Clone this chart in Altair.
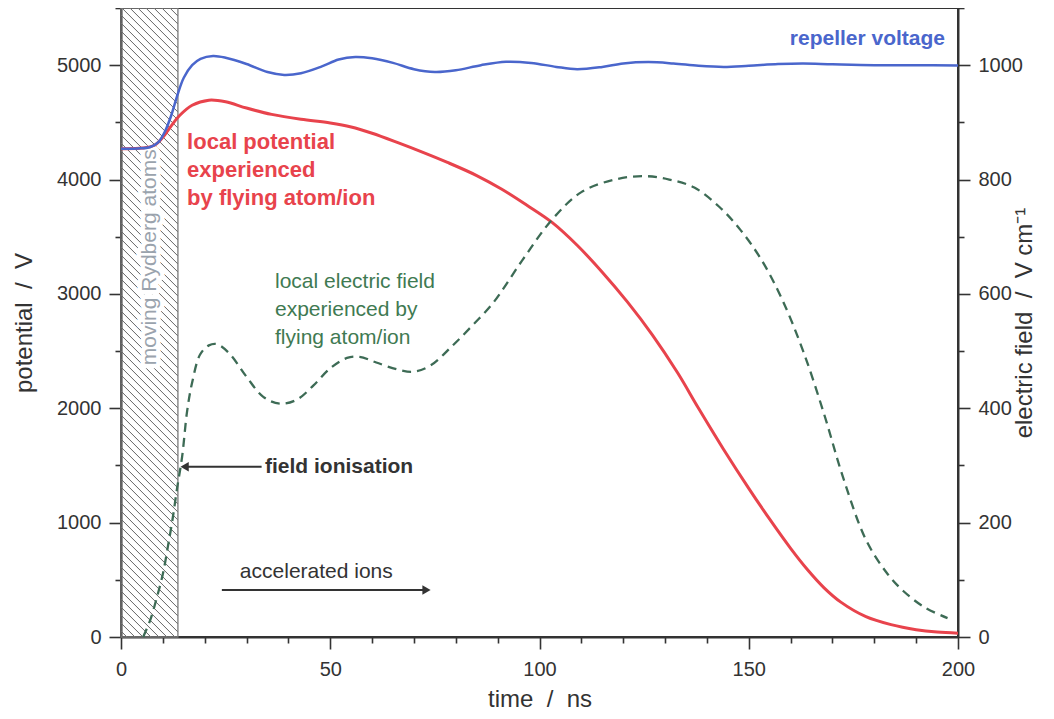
import altair as alt
import pandas as pd

# ---------------- data ----------------
rep_t = [0, 4, 7, 9, 10.5, 12, 13.5, 15, 17, 19, 22, 25, 30, 35, 39, 43, 48, 52, 56, 60,
         65, 70, 75, 80, 86, 92, 98, 104, 109, 115, 120, 126, 132, 138, 144, 150, 157,
         163, 170, 180, 190, 200]
rep_v = [4270, 4272, 4285, 4330, 4420, 4560, 4740, 4890, 5000, 5055, 5080, 5065, 5010,
         4940, 4915, 4930, 4990, 5050, 5072, 5060, 5020, 4965, 4940, 4955, 5000, 5030,
         5020, 4985, 4965, 4985, 5015, 5027, 5015, 4995, 4985, 4995, 5010, 5015, 5008,
         5000, 5000, 4998]

pot_t = [0, 5, 8, 10, 12, 14, 17, 21, 25, 30, 36, 43, 50, 55, 60, 66, 72, 78, 85, 91, 97,
         103, 109, 115, 121, 127, 133, 138, 144, 150, 155, 160, 164, 168, 172, 178, 184,
         190, 195, 200]
pot_v = [4270, 4275, 4300, 4370, 4470, 4560, 4650, 4694, 4680, 4625, 4570, 4527, 4495,
         4460, 4405, 4325, 4240, 4150, 4035, 3915, 3775, 3625, 3425, 3190, 2930, 2640,
         2310, 2000, 1640, 1300, 1030, 775, 590, 430, 305, 178, 108, 64, 43, 33]

fld_t = [5.3, 7, 8.6, 10, 11.2, 12.3, 13.4, 14.6, 15.8, 17, 18.9, 21, 23, 26, 30, 34, 38,
         42, 46, 50, 54, 57, 61, 66, 70, 74, 79, 84, 89, 96, 103, 110, 118, 125, 131, 137,
         143, 148, 153, 158, 163, 168, 172.5, 178, 183, 187, 192, 197.5]
fld_e = [0, 30, 70, 110, 158, 205, 260, 315, 395, 445, 494, 510, 512, 495, 455, 420, 408,
         415, 440, 470, 488, 490, 480, 468, 464, 475, 508, 545, 585, 660, 730, 778, 800,
         806, 800, 786, 752, 712, 660, 590, 500, 390, 280, 170, 112, 80, 52, 33]

band_start, band_end = 0, 13.6          # "moving Rydberg atoms" region (ns)

x_ticks = list(range(0, 201, 10))
v_ticks = list(range(0, 5501, 500))
e_ticks = list(range(0, 1101, 100))

# ---------------- layout / style ----------------
W, H = 837, 629
X_MAX, V_MAX, E_MAX = 200, 5500, 1100
HATCH_STEP = 8
FONT = "Liberation Sans, Arial, Helvetica, sans-serif"
INK = "#333333"

# hatch lines inside the band (45 degrees on screen)
px_t = W / X_MAX
px_v = H / V_MAX
band_w = (band_end - band_start) * px_t
rows = []
c = -band_w
while c < H:
    xs, xe = max(0.0, -c), min(band_w, H - c)
    if xe > xs:
        rows.append(dict(t=band_start + xs / px_t, V=V_MAX - (xs + c) / px_v,
                         t2=band_start + xe / px_t, V2=V_MAX - (xe + c) / px_v))
    c += HATCH_STEP
hatch_df = pd.DataFrame(rows)

x_scale = alt.Scale(domain=[0, X_MAX], nice=False, zero=False)
v_scale = alt.Scale(domain=[0, V_MAX], nice=False, zero=False)
e_scale = alt.Scale(domain=[0, E_MAX], nice=False, zero=False)


def tick_size(step):
    return {"condition": {"test": f"datum.value % {step} === 0", "value": 12}, "value": 6}


x_axis = alt.Axis(values=x_ticks, labelExpr="datum.value % 50 === 0 ? datum.label : ''",
                  tickSize=tick_size(50), title="time\u00a0\u00a0/\u00a0\u00a0ns", grid=False,
                  format="d", labelFlush=False, labelOverlap=False, labelPadding=10,
                  titlePadding=8)
v_axis = alt.Axis(values=v_ticks, labelExpr="datum.value % 1000 === 0 ? datum.label : ''",
                  tickSize=tick_size(1000), title="potential\u00a0\u00a0/\u00a0\u00a0V",
                  format="d", grid=False, labelFlush=False, labelOverlap=False, labelPadding=8,
                  titlePadding=20, orient="left")
e_axis = alt.Axis(values=e_ticks, labelExpr="datum.value % 200 === 0 ? datum.label : ''",
                  tickSize=tick_size(200), title="electric field\u00a0\u00a0/\u00a0\u00a0V cm\u207b\u00b9",
                  format="d", grid=False, labelFlush=False, labelOverlap=False, labelPadding=8,
                  titlePadding=14, orient="right", titleAngle=270)

X = alt.X("t:Q", scale=x_scale, axis=x_axis)
Y = alt.Y("V:Q", scale=v_scale, axis=v_axis)

hatch = alt.Chart(hatch_df).mark_rule(color="#666666", strokeWidth=1.0).encode(
    x=X, y=Y, x2="t2:Q", y2="V2:Q")

band_df = pd.DataFrame({"t": [band_start], "t2": [band_end], "V": [0], "V2": [V_MAX]})
band = alt.Chart(band_df).mark_rect(fillOpacity=0, stroke="#7a7a7a", strokeWidth=1.3).encode(
    x=X, x2="t2:Q", y=Y, y2="V2:Q")

band_lbl = pd.DataFrame({"t": [6.9], "V": [3320], "txt": ["moving Rydberg atoms"]})
halo = alt.Chart(band_lbl).mark_text(angle=270, font=FONT, fontSize=21, color="white",
                                     stroke="white", strokeWidth=9, strokeJoin="round").encode(
    x=X, y=Y, text="txt:N")
band_text = alt.Chart(band_lbl).mark_text(angle=270, font=FONT, fontSize=21,
                                          color="#9aa3ad").encode(x=X, y=Y, text="txt:N")

pot_df = pd.DataFrame({"t": pot_t, "V": pot_v})
rep_df = pd.DataFrame({"t": rep_t, "V": rep_v})
fld_df = pd.DataFrame({"t": fld_t, "E": fld_e})

red = alt.Chart(pot_df).mark_line(color="#e8434c", strokeWidth=3,
                                  interpolate="catmull-rom").encode(x=X, y=Y)
blue = alt.Chart(rep_df).mark_line(color="#4a66cc", strokeWidth=2.5,
                                   interpolate="catmull-rom").encode(x=X, y=Y)
green = alt.Chart(fld_df).mark_line(color="#3d6b55", strokeWidth=2.3, strokeDash=[9, 6],
                                    interpolate="catmull-rom").encode(
    x=X, y=alt.Y("E:Q", scale=e_scale, axis=e_axis))

# annotations (y is the first text line)
rep_lbl = pd.DataFrame({"t": [196.9], "V": [5228], "txt": ["repeller voltage"]})
t_rep = alt.Chart(rep_lbl).mark_text(font=FONT, fontSize=21, fontWeight="bold", color="#4a66cc",
                                     align="right", baseline="middle").encode(x=X, y=Y, text="txt:N")

pot_lbl = pd.DataFrame({"t": [15.8], "V": [4326],
                        "txt": ["local potential\nexperienced\nby flying atom/ion"]})
t_pot = alt.Chart(pot_lbl).mark_text(font=FONT, fontSize=22, fontWeight="bold", color="#e8434c",
                                     align="left", baseline="middle", lineBreak="\n",
                                     lineHeight=28).encode(x=X, y=Y, text="txt:N")

fld_lbl = pd.DataFrame({"t": [36.8], "V": [3100],
                        "txt": ["local electric field\nexperienced by\nflying atom/ion"]})
t_fld = alt.Chart(fld_lbl).mark_text(font=FONT, fontSize=21, color="#3f7a52",
                                     align="left", baseline="middle", lineBreak="\n",
                                     lineHeight=28).encode(x=X, y=Y, text="txt:N")

fi_lbl = pd.DataFrame({"t": [34.4], "V": [1489], "txt": ["field ionisation"]})
t_fi = alt.Chart(fi_lbl).mark_text(font=FONT, fontSize=21, fontWeight="bold", color=INK,
                                   align="left", baseline="middle").encode(x=X, y=Y, text="txt:N")
fi_arrow_df = pd.DataFrame({"t": [15.2], "t2": [33.6], "V": [1489]})
fi_rule = alt.Chart(fi_arrow_df).mark_rule(color=INK, strokeWidth=2).encode(x=X, x2="t2:Q", y=Y)
fi_head = alt.Chart(fi_arrow_df).mark_point(shape="triangle-left", filled=True, color=INK,
                                            opacity=1, size=90).encode(x=X, y=Y)

ai_lbl = pd.DataFrame({"t": [28.4], "V": [569], "txt": ["accelerated ions"]})
t_ai = alt.Chart(ai_lbl).mark_text(font=FONT, fontSize=21, color=INK,
                                   align="left", baseline="middle").encode(x=X, y=Y, text="txt:N")
ai_arrow_df = pd.DataFrame({"t": [24.1], "t2": [73.0], "V": [412]})
ai_rule = alt.Chart(ai_arrow_df).mark_rule(color=INK, strokeWidth=2).encode(x=X, x2="t2:Q", y=Y)
ai_head = alt.Chart(ai_arrow_df).mark_point(shape="triangle-right", filled=True, color=INK,
                                            opacity=1, size=90).encode(
    x=alt.X("t2:Q", scale=x_scale, axis=x_axis), y=Y)

left = alt.layer(hatch, band, halo, band_text, red, blue, t_rep, t_pot, t_fld,
                 t_fi, fi_rule, fi_head, t_ai, ai_rule, ai_head)

chart = (
    alt.layer(left, green)
    .resolve_scale(y="independent")
    .properties(width=W, height=H,
                autosize=alt.AutoSizeParams(type="none"),
                padding={"left": 113, "top": 0, "right": 88, "bottom": 74},
                background="white")
    .configure_view(stroke=INK, strokeWidth=2)
    .configure_axis(domainColor=INK, domainWidth=2, tickColor=INK, tickWidth=1.6,
                    labelColor=INK, titleColor=INK, labelFont=FONT, titleFont=FONT,
                    labelFontSize=20, titleFontSize=24, titleFontWeight="normal")
)

chart.save("out.html", embed_options={"renderer": "svg", "actions": False})
